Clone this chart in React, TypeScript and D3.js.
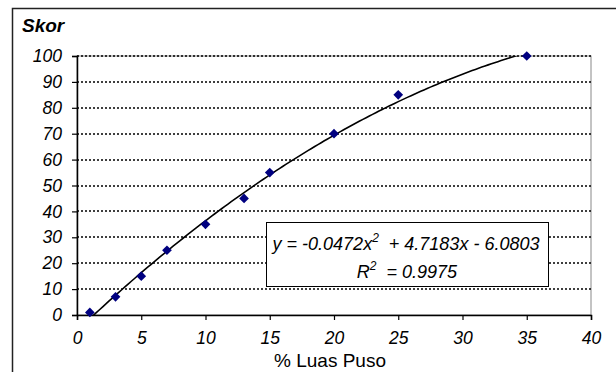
import React, { useEffect, useRef } from 'react';
import * as d3 from 'd3';

// observed points (% luas puso vs skor)
const luasPuso = [1, 3, 5, 7, 10, 13, 15, 20, 25, 35];
const skor = [1, 7, 15, 25, 35, 45, 55, 70, 85, 100];

// polynomial trendline coefficients (order 2)
const trendCoef = [-6.0803, 4.7183, -0.0472];
const rSquared = '0.9975';

const xTicks = [0, 5, 10, 15, 20, 25, 30, 35, 40];
const yTicks = [0, 10, 20, 30, 40, 50, 60, 70, 80, 90, 100];

const width = 616;
const height = 372;

const SkorChart: React.FC = () => {
  const ref = useRef<SVGSVGElement>(null);

  useEffect(() => {
    const margin = { top: 56, right: 25, bottom: 57, left: 77 };
    const innerW = width - margin.left - margin.right;
    const innerH = height - margin.top - margin.bottom;
    const font = '"Liberation Sans", Arial, sans-serif';

    const root = d3.select(ref.current).attr('width', width).attr('height', height);
    root.selectAll('*').remove();

    // outer chart frame (runs off the picture on the right and bottom)
    root
      .append('rect')
      .attr('x', 12.5)
      .attr('y', 8.5)
      .attr('width', width)
      .attr('height', height)
      .attr('fill', '#fff')
      .attr('stroke', '#222')
      .attr('stroke-width', 1.5);

    root
      .append('text')
      .attr('x', 22)
      .attr('y', 32)
      .attr('font-family', font)
      .attr('font-size', '19px')
      .attr('font-weight', 'bold')
      .attr('font-style', 'italic')
      .text('Skor');

    const svg = root.append('g').attr('transform', `translate(${margin.left},${margin.top})`);

    const x = d3.scaleLinear().domain([0, 40]).range([0, innerW]);
    const y = d3.scaleLinear().domain([0, 100]).range([innerH, 0]);

    // plot area border (grey)
    svg
      .append('rect')
      .attr('x', 0)
      .attr('y', 0)
      .attr('width', innerW)
      .attr('height', innerH)
      .attr('fill', 'none')
      .attr('stroke', '#888')
      .attr('stroke-width', 1);

    // dotted gridlines
    svg
      .selectAll('line.grid')
      .data(yTicks.filter((t) => t > 0))
      .enter()
      .append('line')
      .attr('class', 'grid')
      .attr('x1', 0)
      .attr('x2', innerW)
      .attr('y1', (d) => Math.round(y(d)))
      .attr('y2', (d) => Math.round(y(d)))
      .attr('stroke', '#000')
      .attr('stroke-width', 1.6)
      .attr('stroke-dasharray', '2,2');

    // axes
    const xAxis = svg
      .append('g')
      .attr('transform', `translate(0,${innerH})`)
      .call(d3.axisBottom(x).tickValues(xTicks).tickSize(5).tickPadding(12));
    const yAxis = svg.append('g').call(d3.axisLeft(y).tickValues(yTicks).tickSize(5).tickPadding(10));

    [xAxis, yAxis].forEach((ax) => {
      ax.select('.domain').attr('stroke', '#000').attr('stroke-width', 1.5);
      ax.selectAll('.tick line').attr('stroke', '#000').attr('stroke-width', 1.2);
      ax.selectAll('.tick text')
        .attr('font-family', font)
        .attr('font-size', '17.5px')
        .attr('font-style', 'italic')
        .attr('fill', '#000');
    });

    // trendline, clipped to plot area
    svg
      .append('clipPath')
      .attr('id', 'plot-clip')
      .append('rect')
      .attr('width', innerW)
      .attr('height', innerH);

    const trend = (v: number) => trendCoef[0] + trendCoef[1] * v + trendCoef[2] * v * v;
    const trendXs = d3.range(luasPuso[0], luasPuso[luasPuso.length - 1] + 0.01, 0.25);
    svg
      .append('path')
      .datum(trendXs)
      .attr('clip-path', 'url(#plot-clip)')
      .attr('fill', 'none')
      .attr('stroke', '#000')
      .attr('stroke-width', 1.6)
      .attr(
        'd',
        d3
          .line<number>()
          .x((d) => x(d))
          .y((d) => y(trend(d)))
      );

    // diamond markers
    const diamond = d3.symbol().type(d3.symbolDiamond2).size(60);
    svg
      .selectAll('path.pt')
      .data(luasPuso.map((v, i) => [v, skor[i]]))
      .enter()
      .append('path')
      .attr('class', 'pt')
      .attr('transform', (d) => `translate(${x(d[0])},${y(d[1])})`)
      .attr('d', diamond)
      .attr('fill', '#000080');

    // equation box
    const box = root.append('g');
    box
      .append('rect')
      .attr('x', 266.5)
      .attr('y', 222.5)
      .attr('width', 282)
      .attr('height', 64)
      .attr('fill', '#fff')
      .attr('stroke', '#000')
      .attr('stroke-width', 1);

    const eq = box
      .append('text')
      .attr('x', 406)
      .attr('y', 250)
      .attr('text-anchor', 'middle')
      .attr('font-family', font)
      .attr('font-size', '18px')
      .attr('font-style', 'italic')
      .attr('xml:space', 'preserve');
    eq.append('tspan').text(`y = ${trendCoef[2]}x`);
    eq.append('tspan').attr('dy', -8).attr('font-size', '12px').text('2');
    eq.append('tspan').attr('dy', 8).text(`  + ${trendCoef[1]}x - ${Math.abs(trendCoef[0])}`);

    const r2 = box
      .append('text')
      .attr('x', 407)
      .attr('y', 278)
      .attr('text-anchor', 'middle')
      .attr('font-family', font)
      .attr('font-size', '18px')
      .attr('font-style', 'italic')
      .attr('xml:space', 'preserve');
    r2.append('tspan').text('R');
    r2.append('tspan').attr('dy', -8).attr('font-size', '12px').text('2');
    r2.append('tspan').attr('dy', 8).text(`  = ${rSquared}`);

    // x axis title
    root
      .append('text')
      .attr('x', 330)
      .attr('y', 367)
      .attr('text-anchor', 'middle')
      .attr('font-family', font)
      .attr('font-size', '19px')
      .text('% Luas Puso');

    return () => {
      root.selectAll('*').remove();
    };
  }, []);

  return <svg ref={ref} style={{ position: 'absolute', left: 0, top: 0, display: 'block' }} />;
};

export default function App() {
  return <SkorChart />;
}
